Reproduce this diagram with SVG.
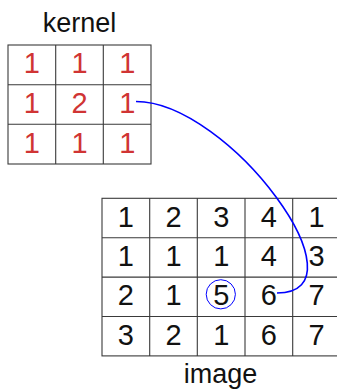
<svg xmlns="http://www.w3.org/2000/svg" width="337" height="389" viewBox="0 0 337 389">
  <style>
    .grid { fill: none; stroke: #3a3a3a; stroke-width: 1.1; }
    .label { font-family: "Liberation Sans", Arial, sans-serif; font-size: 27px; fill: #111; text-anchor: middle; }
    .kv { font-family: "Liberation Sans", Arial, sans-serif; font-size: 29px; fill: #d03434; text-anchor: middle; }
    .iv { font-family: "Liberation Sans", Arial, sans-serif; font-size: 29px; fill: #111; text-anchor: middle; }
    .link { fill: none; stroke: #0000ff; stroke-width: 1.6; }
    .mark { fill: none; stroke: #0000ff; stroke-width: 1; }
  </style>

  <!-- 3x3 kernel -->
  <g id="kernel">
    <text class="label" x="79.5" y="32.3">kernel</text>
    <rect class="grid" x="8" y="45" width="143" height="119"/>
    <path class="grid" d="M55.7,45V164M103.3,45V164M8,84.7H151M8,124.3H151"/>
    <text class="kv" x="31.8" y="73.3">1</text>
    <text class="kv" x="79.5" y="73.3">1</text>
    <text class="kv" x="127.2" y="73.3">1</text>
    <text class="kv" x="31.8" y="113">1</text>
    <text class="kv" x="79.5" y="113">2</text>
    <text class="kv" x="127.2" y="113">1</text>
    <text class="kv" x="31.8" y="152.6">1</text>
    <text class="kv" x="79.5" y="152.6">1</text>
    <text class="kv" x="127.2" y="152.6">1</text>
  </g>

  <!-- 4x5 image, right edge runs past the canvas -->
  <g id="image">
    <rect class="grid" x="102" y="198.3" width="238.3" height="157.6"/>
    <path class="grid" d="M149.7,198.3V355.9M197.3,198.3V355.9M245,198.3V355.9M292.7,198.3V355.9M102,237.7H340.3M102,277.1H340.3M102,316.5H340.3"/>
    <text class="iv" x="125.8" y="226.6">1</text>
    <text class="iv" x="173.5" y="226.6">2</text>
    <text class="iv" x="221.2" y="226.6">3</text>
    <text class="iv" x="268.8" y="226.6">4</text>
    <text class="iv" x="316.5" y="226.6">1</text>
    <text class="iv" x="125.8" y="266">1</text>
    <text class="iv" x="173.5" y="266">1</text>
    <text class="iv" x="221.2" y="266">1</text>
    <text class="iv" x="268.8" y="266">4</text>
    <text class="iv" x="316.5" y="266">3</text>
    <text class="iv" x="125.8" y="305.4">2</text>
    <text class="iv" x="173.5" y="305.4">1</text>
    <text class="iv" x="221.2" y="305.4">5</text>
    <text class="iv" x="268.8" y="305.4">6</text>
    <text class="iv" x="316.5" y="305.4">7</text>
    <text class="iv" x="125.8" y="344.8">3</text>
    <text class="iv" x="173.5" y="344.8">2</text>
    <text class="iv" x="221.2" y="344.8">1</text>
    <text class="iv" x="268.8" y="344.8">6</text>
    <text class="iv" x="316.5" y="344.8">7</text>
    <circle class="mark" cx="220.8" cy="294.3" r="14.6"/>
    <text class="label" x="220.5" y="383.3">image</text>
  </g>

  <!-- kernel element to image element -->
  <g id="connectors">
    <path class="link" d="M136,101.5C229,101.5 370,293 277,293"/>
  </g>
</svg>
